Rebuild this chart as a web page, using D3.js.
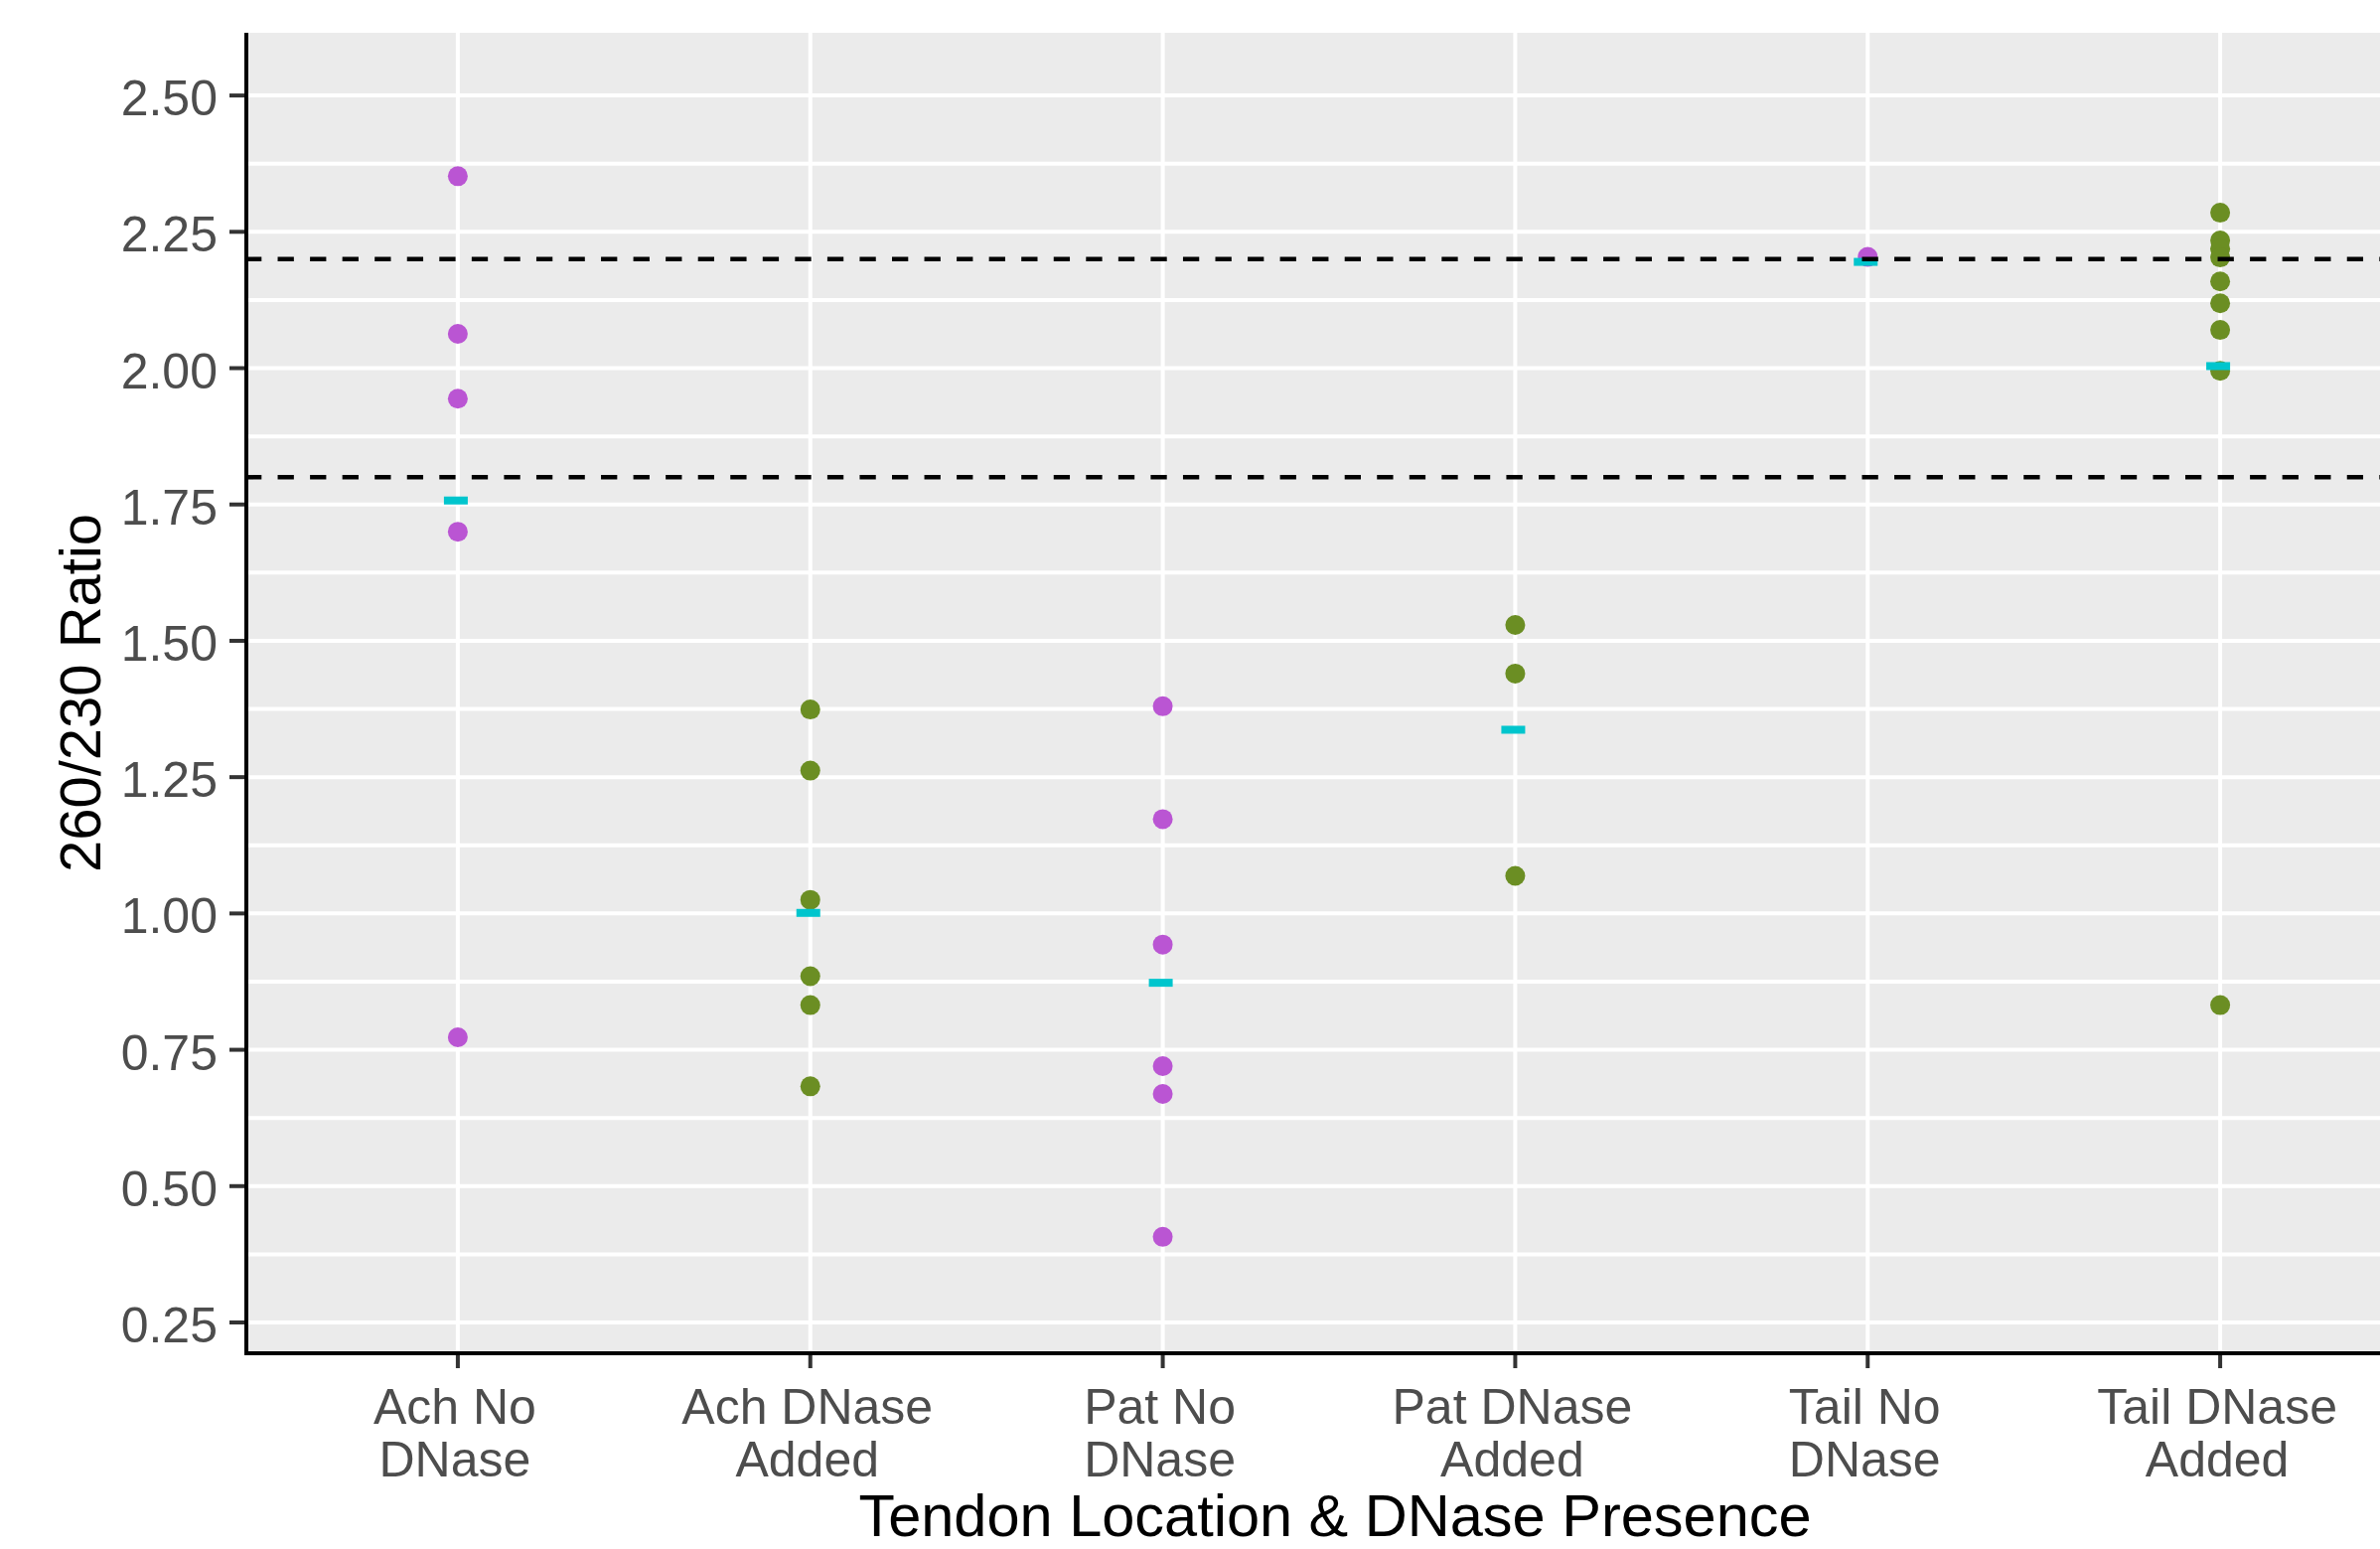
<!DOCTYPE html>
<html>
<head>
<meta charset="utf-8">
<script src="https://cdn.jsdelivr.net/npm/d3@7"></script>
<style>
  html, body { margin: 0; padding: 0; background: #ffffff; }
  svg { display: block; }
</style>
</head>
<body>
<script>
// canvas and positioning magic numbers
var w = 2396;
var h = 1559;
var panelLeft = 248;
var panelRight = 2448;   // panel runs past the right edge, picture is cropped
var panelTop = 33;
var panelBottom = 1362;

// data
var categories = ["Ach No DNase", "Ach DNase Added", "Pat No DNase", "Pat DNase Added", "Tail No DNase", "Tail DNase Added"];
var categoryLines = [["Ach No", "DNase"], ["Ach DNase", "Added"], ["Pat No", "DNase"], ["Pat DNase", "Added"], ["Tail No", "DNase"], ["Tail DNase", "Added"]];
var dnase = ["No", "Added", "No", "Added", "No", "Added"];

var achNo = [2.352, 2.063, 1.944, 1.700, 0.773];
var achAdded = [1.374, 1.262, 1.025, 0.885, 0.832, 0.683];
var patNo = [1.380, 1.173, 0.943, 0.720, 0.669, 0.407];
var patAdded = [1.529, 1.440, 1.069];
var tailNo = [2.204];
var tailAdded = [2.285, 2.234, 2.219, 2.203, 2.159, 2.119, 2.070, 1.995, 0.832];
var seriesValues = [achNo, achAdded, patNo, patAdded, tailNo, tailAdded];

var refLines = [2.2, 1.8];
var yTicks = [0.25, 0.50, 0.75, 1.00, 1.25, 1.50, 1.75, 2.00, 2.25, 2.50];
var yMinor = [0.375, 0.625, 0.875, 1.125, 1.375, 1.625, 1.875, 2.125, 2.375];

var colorMap = { "No": "#BA55D3", "Added": "#6B8E23" };
var meanColor = "#00C5CD";

// flatten points
var points = [];
seriesValues.forEach(function(vals, i) {
    vals.forEach(function(v) {
        points.push({ cat: categories[i], group: dnase[i], value: v });
    });
});
var means = seriesValues.map(function(vals, i) {
    return { cat: categories[i], value: d3.mean(vals) };
});

// scales
var xScale = d3.scalePoint()
               .domain(categories)
               .range([panelLeft, panelRight])
               .padding(0.6);

var yScale = d3.scaleLinear()
               .domain([0.1935, 2.615])
               .range([panelBottom, panelTop]);

var svg = d3.select("body")
            .append("svg")
            .attr("width", w)
            .attr("height", h);

// panel background
svg.append("rect")
   .attr("x", panelLeft)
   .attr("y", panelTop)
   .attr("width", panelRight - panelLeft)
   .attr("height", panelBottom - panelTop)
   .attr("fill", "#EBEBEB");

// grid lines
svg.selectAll("line.minor")
   .data(yMinor)
   .enter()
   .append("line")
   .attr("class", "minor")
   .attr("x1", panelLeft).attr("x2", panelRight)
   .attr("y1", function(d) { return yScale(d); })
   .attr("y2", function(d) { return yScale(d); })
   .attr("stroke", "#ffffff")
   .attr("stroke-width", 4);

svg.selectAll("line.major")
   .data(yTicks)
   .enter()
   .append("line")
   .attr("class", "major")
   .attr("x1", panelLeft).attr("x2", panelRight)
   .attr("y1", function(d) { return yScale(d); })
   .attr("y2", function(d) { return yScale(d); })
   .attr("stroke", "#ffffff")
   .attr("stroke-width", 4);

svg.selectAll("line.vgrid")
   .data(categories)
   .enter()
   .append("line")
   .attr("class", "vgrid")
   .attr("x1", function(d) { return xScale(d); })
   .attr("x2", function(d) { return xScale(d); })
   .attr("y1", panelTop).attr("y2", panelBottom)
   .attr("stroke", "#ffffff")
   .attr("stroke-width", 4);

// points
svg.selectAll("circle.pt")
   .data(points)
   .enter()
   .append("circle")
   .attr("class", "pt")
   .attr("cx", function(d) { return xScale(d.cat); })
   .attr("cy", function(d) { return yScale(d.value); })
   .attr("r", 10)
   .attr("fill", function(d) { return colorMap[d.group]; });

// mean marks (drawn as a "-" glyph in the original, sits a bit low)
svg.selectAll("rect.mean")
   .data(means)
   .enter()
   .append("rect")
   .attr("class", "mean")
   .attr("x", function(d) { return xScale(d.cat) - 14; })
   .attr("y", function(d) { return yScale(d.value) + 1; })
   .attr("width", 24)
   .attr("height", 8)
   .attr("fill", meanColor);

// dashed reference lines
svg.selectAll("line.ref")
   .data(refLines)
   .enter()
   .append("line")
   .attr("class", "ref")
   .attr("x1", panelLeft - 1).attr("x2", panelRight)
   .attr("y1", function(d) { return yScale(d); })
   .attr("y2", function(d) { return yScale(d); })
   .attr("stroke", "#000000")
   .attr("stroke-width", 4.5)
   .attr("stroke-dasharray", "16.3,16.25");

// axes lines
svg.append("line")
   .attr("x1", panelLeft).attr("x2", panelLeft)
   .attr("y1", panelTop).attr("y2", panelBottom + 2)
   .attr("stroke", "#000000")
   .attr("stroke-width", 4);
svg.append("line")
   .attr("x1", panelLeft - 2).attr("x2", panelRight)
   .attr("y1", panelBottom).attr("y2", panelBottom)
   .attr("stroke", "#000000")
   .attr("stroke-width", 4);

// y ticks + labels
svg.selectAll("line.ytick")
   .data(yTicks)
   .enter()
   .append("line")
   .attr("class", "ytick")
   .attr("x1", panelLeft - 17).attr("x2", panelLeft - 2)
   .attr("y1", function(d) { return yScale(d); })
   .attr("y2", function(d) { return yScale(d); })
   .attr("stroke", "#333333")
   .attr("stroke-width", 4);

svg.selectAll("text.ylab")
   .data(yTicks)
   .enter()
   .append("text")
   .attr("class", "ylab")
   .attr("x", 219)
   .attr("y", function(d) { return yScale(d) + 20; })
   .attr("text-anchor", "end")
   .attr("font-family", "'Liberation Sans', Arial, sans-serif")
   .attr("font-size", 50)
   .attr("fill", "#4D4D4D")
   .text(function(d) { return d3.format(".2f")(d); });

// x ticks + labels
svg.selectAll("line.xtick")
   .data(categories)
   .enter()
   .append("line")
   .attr("class", "xtick")
   .attr("x1", function(d) { return xScale(d); })
   .attr("x2", function(d) { return xScale(d); })
   .attr("y1", panelBottom + 2).attr("y2", panelBottom + 15)
   .attr("stroke", "#333333")
   .attr("stroke-width", 4);

var xlabs = svg.selectAll("text.xlab")
   .data(categories)
   .enter()
   .append("text")
   .attr("class", "xlab")
   .attr("text-anchor", "middle")
   .attr("font-family", "'Liberation Sans', Arial, sans-serif")
   .attr("font-size", 50)
   .attr("fill", "#4D4D4D");

xlabs.each(function(d, i) {
    var t = d3.select(this);
    categoryLines[i].forEach(function(line, j) {
        t.append("tspan")
         .attr("x", xScale(d) - 3)
         .attr("y", 1433 + j * 53)
         .text(line);
    });
});

// axis titles
svg.append("text")
   .attr("x", (panelLeft + panelRight) / 2 - 4)
   .attr("y", 1546)
   .attr("text-anchor", "middle")
   .attr("font-family", "'Liberation Sans', Arial, sans-serif")
   .attr("font-size", 59.5)
   .attr("fill", "#000000")
   .text("Tendon Location & DNase Presence");

svg.append("text")
   .attr("transform", "translate(101," + ((panelTop + panelBottom) / 2) + ") rotate(-90)")
   .attr("text-anchor", "middle")
   .attr("font-family", "'Liberation Sans', Arial, sans-serif")
   .attr("font-size", 58)
   .attr("fill", "#000000")
   .text("260/230 Ratio");
</script>
</body>
</html>
